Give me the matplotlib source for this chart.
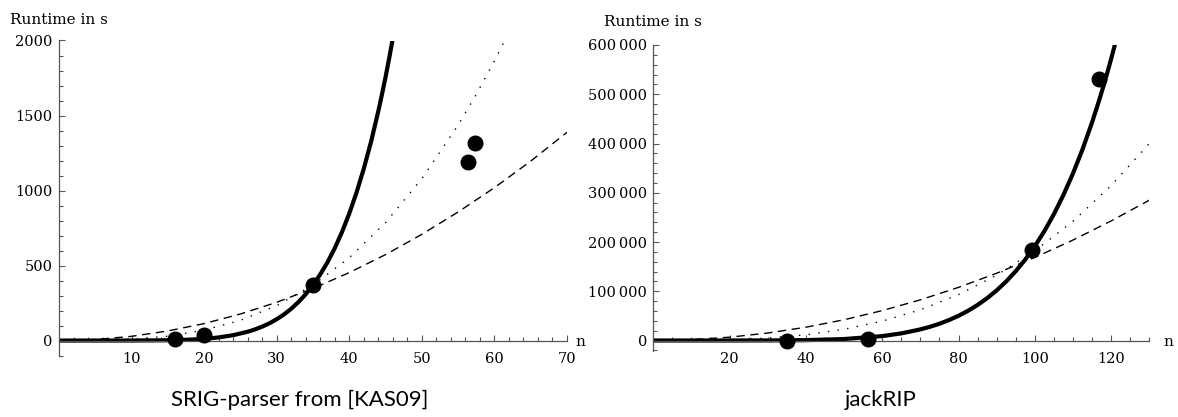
import matplotlib
matplotlib.use("Agg")
import matplotlib.pyplot as plt
from matplotlib.ticker import MultipleLocator, FixedLocator, FixedFormatter

# ---------------- data ----------------
# Left panel: SRIG-parser from [KAS09]
left_points_n = [16, 20, 35, 56.4, 57.3]
left_points_t = [10, 38, 370, 1190, 1315]

left_solid_n = [0, 10, 15, 18, 20, 22, 24, 26, 27, 28, 29, 30, 31, 32, 33, 34, 35, 36, 37, 38, 39,
                40, 41, 42, 43, 44, 44.5, 45, 45.5, 46, 47]
left_solid_t = [0, 0.2, 1.9, 6, 11.5, 20.8, 35.7, 58.6, 74, 92.8, 115, 142, 174, 212, 257, 309,
                370, 441, 522, 616, 724, 847, 987, 1146, 1325, 1529, 1640, 1757, 1882, 2014, 2302]

left_dotted_n = [0, 5, 10, 15, 20, 25, 30, 35, 40, 45, 50, 55, 57.5, 60, 61, 62]
left_dotted_t = [0, 1.1, 8.6, 29, 69, 135, 233, 370, 552, 786, 1079, 1436, 1641, 1864, 1959, 2057]

left_dashed_n = [0, 5, 10, 15, 20, 25, 30, 35, 40, 45, 50, 55, 60, 65, 70]
left_dashed_t = [0, 7, 28, 64, 113, 177, 255, 347, 453, 573, 708, 857, 1019, 1196, 1388]

left_xticks = [10, 20, 30, 40, 50, 60, 70]
left_yticks = [0, 500, 1000, 1500, 2000]
left_ytick_labels = ["0", "500", "1000", "1500", "2000"]

# Right panel: jackRIP
right_points_n = [35, 56.4, 99.3, 116.7]
right_points_t = [0, 2500, 183600, 530000]

right_solid_n = [0, 20, 30, 40, 50, 60, 65, 70, 72.5, 75, 77.5, 80, 82.5, 85, 87.5, 90, 92.5, 95,
                 97.5, 100, 102.5, 105, 107.5, 110, 112.5, 115, 117, 118, 119, 120, 121, 122]
right_solid_t = [0, 12, 140, 784, 2990, 8930, 14450, 22530, 27800, 34070, 41500, 50210, 60370,
                 72230, 85950, 101800, 119960, 140800, 164500, 191500, 222100, 256600, 295600,
                 339300, 388100, 443000, 491300, 517200, 543800, 572000, 600900, 631600]

right_dotted_n = [0, 10, 20, 30, 40, 50, 60, 70, 80, 90, 100, 110, 120, 130]
right_dotted_t = [0, 182, 1456, 4914, 11650, 22750, 39300, 62430, 93180, 132700, 182000, 242200,
                  314500, 399900]

right_dashed_n = [0, 10, 20, 30, 40, 50, 60, 70, 80, 90, 100, 110, 120, 130]
right_dashed_t = [0, 1686, 6744, 15170, 26980, 42150, 60700, 82600, 107900, 136600, 168600, 204000,
                  242800, 284900]

right_xticks = [20, 40, 60, 80, 100, 120]
right_yticks = [0, 100000, 200000, 300000, 400000, 500000, 600000]
right_ytick_labels = ["0", "100\u2009000", "200\u2009000", "300\u2009000", "400\u2009000",
                      "500\u2009000", "600\u2009000"]

titles = ["SRIG-parser from [KAS09]", "jackRIP"]
ylabel_text = "Runtime in s"
xlabel_text = "n"

# ---------------- figure ----------------
W, H = 1178, 417
fig = plt.figure(figsize=(W / 100, H / 100), dpi=100)

SERIF = ["DejaVu Serif"]
SANS = ["Lato", "DejaVu Sans"]
AXCOL = "#555555"


def px_axes(x0, x1, ytop, ybot):
    return fig.add_axes([x0 / W, 1 - ybot / H, (x1 - x0) / W, (ybot - ytop) / H])


def style_axes(ax, xmax, ymin, ymax, xticks, xminor, yticks, ylabels, yminor):
    ax.set_xlim(0, xmax)
    ax.set_ylim(ymin, ymax)
    for s in ["top", "right"]:
        ax.spines[s].set_visible(False)
    ax.spines["bottom"].set_position(("data", 0))
    ax.spines["left"].set_position(("data", 0))
    for s in ["bottom", "left"]:
        ax.spines[s].set_color(AXCOL)
        ax.spines[s].set_linewidth(0.9)
    ax.xaxis.set_major_locator(FixedLocator(xticks))
    ax.xaxis.set_major_formatter(FixedFormatter([str(v) for v in xticks]))
    ax.xaxis.set_minor_locator(MultipleLocator(xminor))
    ax.yaxis.set_major_locator(FixedLocator(yticks))
    ax.yaxis.set_major_formatter(FixedFormatter(ylabels))
    ax.yaxis.set_minor_locator(MultipleLocator(yminor))
    ax.tick_params(axis="both", which="major", direction="in", length=4.5, width=0.8,
                   color=AXCOL, labelsize=10.5)
    ax.tick_params(axis="both", which="minor", direction="in", length=2.7, width=0.8,
                   color=AXCOL)
    ax.tick_params(axis="x", which="major", pad=8)
    ax.tick_params(axis="y", which="major", pad=4.5)
    for lab in ax.get_xticklabels() + ax.get_yticklabels():
        lab.set_family(SERIF)
    ax.patch.set_alpha(0)


# Left axes
axL = px_axes(59, 567, 40.5, 356)
axL.plot(left_dashed_n, left_dashed_t, color="black", lw=1.0, ls=(0, (6, 4)))
axL.plot(left_dotted_n, left_dotted_t, color="black", lw=1.0, ls=(0, (1, 6)))
axL.plot(left_solid_n, left_solid_t, color="black", lw=3.0, solid_joinstyle="round")
axL.plot(left_points_n, left_points_t, "o", color="black", ms=10.5, ls="none", zorder=5)
style_axes(axL, 70, -103, 2000, left_xticks, 2, left_yticks, left_ytick_labels, 100)

# Right axes
axR = px_axes(653.3, 1149.3, 45, 350.7)
axR.plot(right_dashed_n, right_dashed_t, color="black", lw=1.0, ls=(0, (6, 4)))
axR.plot(right_dotted_n, right_dotted_t, color="black", lw=1.0, ls=(0, (1, 6)))
axR.plot(right_solid_n, right_solid_t, color="black", lw=3.0, solid_joinstyle="round")
axR.plot(right_points_n, right_points_t, "o", color="black", ms=10.5, ls="none", zorder=5)
style_axes(axR, 130, -20700, 600000, right_xticks, 5, right_yticks, right_ytick_labels, 20000)

# Axis labels as free text
fig.text(10 / W, 1 - 20 / H, ylabel_text, family=SERIF, fontsize=11, ha="left", va="center")
fig.text(604 / W, 1 - 22 / H, ylabel_text, family=SERIF, fontsize=11, ha="left", va="center")
fig.text(575 / W, 1 - 342 / H, xlabel_text, family=SERIF, fontsize=11, ha="left", va="center")
fig.text(1163 / W, 1 - 342 / H, xlabel_text, family=SERIF, fontsize=11, ha="left", va="center")

# Panel titles
fig.text(300 / W, 1 - 400 / H, titles[0], family=SANS, fontsize=16, ha="center", va="center")
fig.text(881 / W, 1 - 400 / H, titles[1], family=SANS, fontsize=16, ha="center", va="center")

fig.savefig("out.png", dpi=100, facecolor="white")
